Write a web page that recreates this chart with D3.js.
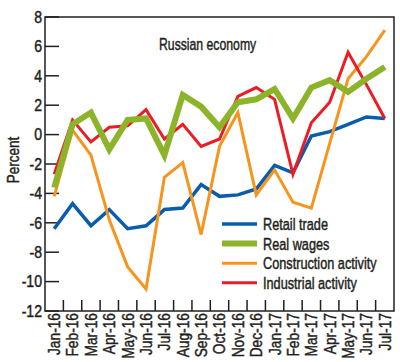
<!DOCTYPE html>
<html>
<head>
<meta charset="utf-8">
<script src="https://cdn.jsdelivr.net/npm/d3@7"></script>
<style>
  html, body { margin: 0; padding: 0; background: #fff; }
  text { font-family: "Liberation Sans", Arial, sans-serif; fill: #231f20; stroke: #231f20; stroke-width: 0.45px; }
</style>
</head>
<body>
<div id="chart"></div>
<script>
/* ---------- data ---------- */
const months = ["Jan-16","Feb-16","Mar-16","Apr-16","May-16","Jun-16","Jul-16","Aug-16","Sep-16",
  "Oct-16","Nov-16","Dec-16","Jan-17","Feb-17","Mar-17","Apr-17","May-17","Jun-17","Jul-17"];

const retailTrade  = [-6.4,-4.7,-6.2,-5.1,-6.4,-6.2,-5.1,-5.0,-3.4,-4.2,-4.1,-3.7,-2.1,-2.6,-0.1,0.2,0.7,1.2,1.1];
const realWages    = [-3.6,0.7,1.5,-1.0,1.0,1.1,-1.4,2.7,1.9,0.5,2.2,2.4,3.1,1.1,3.2,3.7,2.9,3.8,4.6];
const construction = [-4.2,0.3,-1.4,-5.8,-9.0,-10.5,-2.9,-1.9,-6.8,-0.8,1.5,-4.1,-2.4,-4.6,-5.0,-0.6,3.8,5.3,7.1];
const industrial   = [-2.7,1.0,-0.5,0.5,0.6,1.7,-0.3,0.7,-0.8,-0.3,2.6,3.2,2.4,-2.7,0.8,2.2,5.6,3.4,1.1];

const yTicks = [-12,-10,-8,-6,-4,-2,0,2,4,6,8];

const series = [
  { name: "Retail trade",          values: retailTrade,  color: "#0a5cad", width: 3.5 },
  { name: "Construction activity", values: construction, color: "#f7941d", width: 3 },
  { name: "Industrial activity",   values: industrial,   color: "#ed1c24", width: 3 },
  { name: "Real wages",            values: realWages,    color: "#8cb42a", width: 6 }
];
const legendOrder = ["Retail trade", "Real wages", "Construction activity", "Industrial activity"];

/* ---------- layout ---------- */
const W = 400, H = 362;
const plotLeft = 45, plotRight = 394, plotTop = 17, plotBottom = 311;

const svg = d3.select("#chart").append("svg")
  .attr("width", W).attr("height", H);

const x = d3.scaleBand().domain(months).range([plotLeft, plotRight]).padding(0);
const y = d3.scaleLinear().domain([-12, 8]).range([plotBottom, plotTop]);
const cx = d => x(d) + x.bandwidth() / 2;

// the original font is a condensed face: squeeze text horizontally
const squeeze = (tx, ty, sx, rot) =>
  `translate(${tx},${ty})${rot ? ` rotate(${rot})` : ""} scale(${sx},1)`;

// y ticks (pointing inward) + labels
svg.append("g").selectAll("line")
  .data(yTicks)
  .join("line")
  .attr("x1", plotLeft).attr("x2", plotLeft + 14)
  .attr("y1", d => y(d)).attr("y2", d => y(d))
  .attr("stroke", "#231f20").attr("stroke-width", 1.5);

svg.append("g").selectAll("text")
  .data(yTicks)
  .join("text")
  .attr("transform", d => squeeze(42, y(d), 0.88))
  .attr("text-anchor", "end")
  .attr("dominant-baseline", "central")
  .attr("font-size", 16)
  .text(d => d < 0 ? "-" + Math.abs(d) : d);

// x ticks on month boundaries
svg.append("g").selectAll("line")
  .data(months.slice(1))
  .join("line")
  .attr("x1", d => x(d)).attr("x2", d => x(d))
  .attr("y1", plotBottom).attr("y2", plotBottom - 11)
  .attr("stroke", "#231f20").attr("stroke-width", 1.5);

// x labels, rotated
svg.append("g").selectAll("text")
  .data(months)
  .join("text")
  .attr("transform", d => squeeze(cx(d), plotBottom + 2, 0.86, -90))
  .attr("text-anchor", "end")
  .attr("dominant-baseline", "central")
  .attr("font-size", 16)
  .text(d => d);

// frame
svg.append("rect")
  .attr("x", plotLeft).attr("y", plotTop)
  .attr("width", plotRight - plotLeft).attr("height", plotBottom - plotTop)
  .attr("fill", "none").attr("stroke", "#231f20").attr("stroke-width", 1.5);

// y title
svg.append("text")
  .attr("transform", squeeze(13, 160, 0.82, -90))
  .attr("text-anchor", "middle")
  .attr("dominant-baseline", "central")
  .attr("font-size", 16.5)
  .text("Percent");

// chart title
svg.append("text")
  .attr("transform", squeeze(159, 50, 0.72))
  .attr("font-size", 17)
  .text("Russian economy");

/* ---------- lines ---------- */
const line = d3.line()
  .x((v, i) => cx(months[i]))
  .y(v => y(v));

svg.append("g").selectAll("path")
  .data(series)
  .join("path")
  .attr("d", d => line(d.values))
  .attr("fill", "none")
  .attr("stroke", d => d.color)
  .attr("stroke-width", d => d.width)
  .attr("stroke-linejoin", "miter");

/* ---------- legend ---------- */
const lg = svg.append("g").attr("transform", "translate(222,224)");
const rows = lg.selectAll("g")
  .data(legendOrder.map(n => series.find(s => s.name === n)))
  .join("g")
  .attr("transform", (d, i) => `translate(0,${i * 19.6})`);
rows.append("line")
  .attr("x1", 0).attr("x2", 35)
  .attr("stroke", d => d.color)
  .attr("stroke-width", d => d.width);
rows.append("text")
  .attr("transform", squeeze(41, 6, 0.77))
  .attr("font-size", 16.5)
  .text(d => d.name);
</script>
</body>
</html>
